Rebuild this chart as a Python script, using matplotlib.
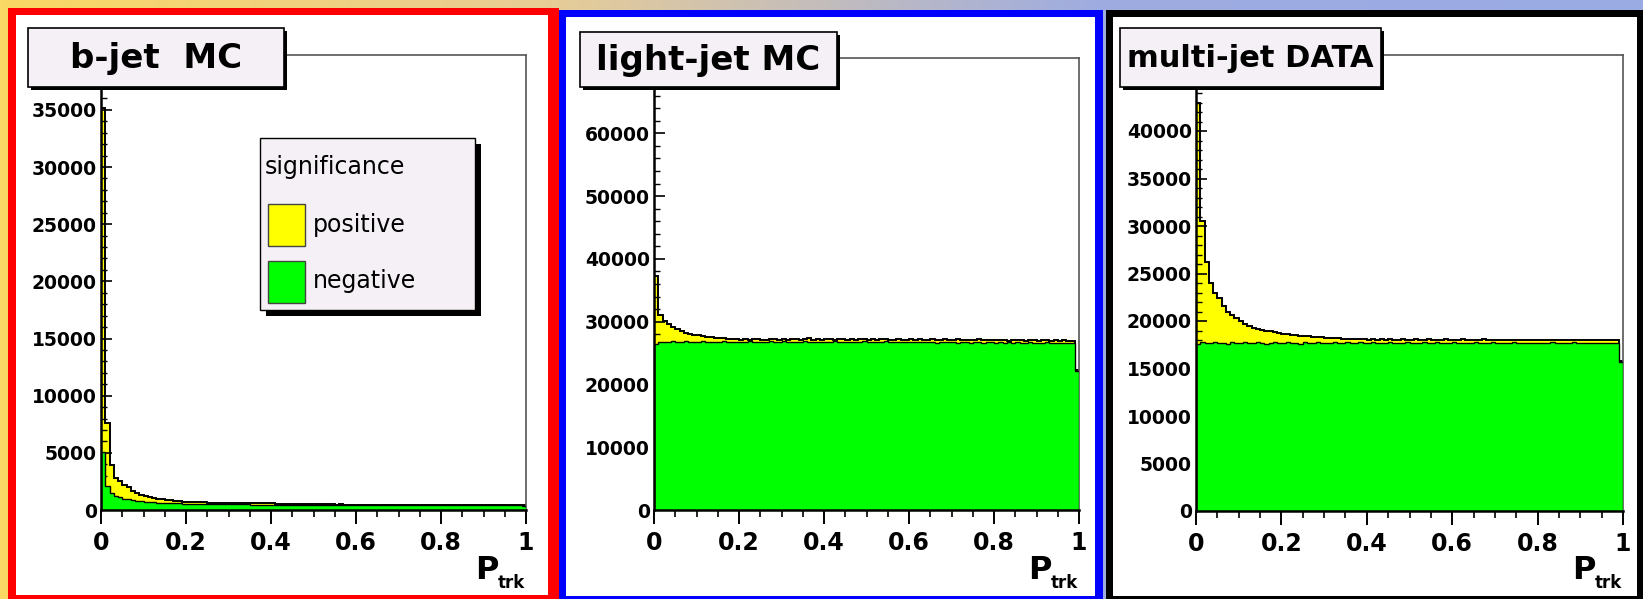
import numpy as np
import matplotlib
matplotlib.use("Agg")
import matplotlib.pyplot as plt
from matplotlib.patches import Rectangle
from matplotlib.colors import LinearSegmentedColormap
from matplotlib.ticker import MultipleLocator

plt.rcParams['font.family'] = ['DejaVu Sans']

W, H = 1643, 599

# track probability histograms, 100 bins in P_trk from 0 to 1
bjet_pos = [35200, 7600, 3900, 2800, 2500, 2200, 2000, 1700, 1500, 1300,
            1200, 1100, 1050, 980, 930, 880, 840, 800, 770, 740,
            720, 700, 690, 680, 660, 650, 640, 640, 630, 620,
            620, 610, 610, 600, 600, 590, 590, 580, 580, 570,
            570, 560, 500, 520, 490, 510, 500, 490, 520, 500,
            510, 490, 520, 520, 500, 480, 490, 480, 470, 480,
            470, 480, 470, 470, 460, 470, 460, 470, 460, 460,
            460, 450, 460, 450, 460, 450, 450, 460, 450, 450,
            450, 440, 450, 440, 450, 440, 450, 440, 440, 450,
            440, 440, 430, 440, 430, 440, 430, 430, 440, 400]
bjet_neg = [5100, 2100, 1500, 1250, 1100, 1000, 920, 860, 800, 760,
            720, 690, 660, 640, 620, 600, 590, 580, 570, 560,
            550, 540, 540, 530, 530, 520, 520, 510, 510, 500,
            500, 500, 490, 490, 490, 480, 480, 480, 480, 470,
            470, 470, 480, 470, 480, 470, 480, 470, 470, 480,
            470, 470, 460, 470, 470, 460, 470, 460, 460, 460,
            460, 460, 450, 460, 450, 460, 450, 450, 450, 450,
            450, 450, 440, 450, 440, 450, 440, 440, 450, 440,
            440, 440, 440, 430, 440, 430, 440, 430, 440, 440,
            430, 440, 430, 430, 430, 430, 430, 420, 430, 390]

ljet_pos = [37300, 31000, 30100, 29600, 29200, 28800, 28500, 28200, 28000, 27900,
            27800, 27700, 27600, 27500, 27450, 27400, 27350, 27300, 27300, 27250,
            27150, 27250, 27100, 27300, 27200, 27050, 27150, 27250, 27200, 27100,
            27300, 27150, 27200, 27250, 27100, 27200, 27350, 27150, 27200, 27100,
            27250, 27200, 27150, 27300, 27200, 27100, 27250, 27150, 27200, 27300,
            27100, 27200, 27150, 27250, 27200, 27100, 27150, 27200, 27050, 27150,
            27200, 27100, 27250, 27150, 27100, 27200, 27150, 27050, 27200, 27100,
            27150, 27200, 27100, 27050, 27150, 27100, 27200, 27050, 27100, 27150,
            27050, 27100, 27150, 27000, 27100, 27050, 27150, 27000, 27050, 27100,
            27000, 27050, 27100, 27000, 27050, 26950, 27050, 27000, 27000, 22300]
ljet_neg = [26500, 26700, 26800, 26750, 26850, 26800, 26700, 26850, 26750, 26800,
            26700, 26850, 26800, 26750, 26700, 26800, 26850, 26750, 26800, 26700,
            26800, 26750, 26850, 26700, 26800, 26750, 26700, 26850, 26800, 26750,
            26850, 26700, 26800, 26750, 26800, 26850, 26750, 26700, 26800, 26750,
            26800, 26700, 26850, 26750, 26700, 26800, 26750, 26800, 26700, 26850,
            26750, 26800, 26700, 26750, 26850, 26700, 26750, 26800, 26700, 26750,
            26800, 26700, 26750, 26700, 26800, 26750, 26650, 26750, 26700, 26800,
            26700, 26650, 26750, 26700, 26650, 26750, 26700, 26650, 26700, 26750,
            26650, 26700, 26650, 26700, 26600, 26700, 26650, 26600, 26700, 26650,
            26600, 26650, 26700, 26600, 26650, 26600, 26650, 26600, 26600, 22200]

mjet_pos = [43000, 30500, 26200, 24000, 23000, 22400, 21600, 21000, 20600, 20300,
            20000, 19700, 19500, 19300, 19200, 19100, 19000, 18900, 18800, 18700,
            18650, 18600, 18550, 18500, 18450, 18400, 18400, 18350, 18300, 18300,
            18250, 18250, 18200, 18200, 18150, 18150, 18100, 18150, 18100, 18100,
            18050, 18100, 18000, 18150, 18050, 18100, 18000, 18050, 18150, 18050,
            18000, 18100, 18050, 18000, 18100, 18050, 17950, 18050, 18100, 18000,
            18050, 18000, 18100, 18050, 17950, 18050, 18000, 18100, 18000, 18050,
            17950, 18000, 18050, 17950, 18000, 18050, 18000, 17950, 18050, 18000,
            17950, 18000, 18050, 17950, 18000, 17950, 18050, 18000, 17950, 18000,
            17950, 18000, 17950, 18050, 17950, 18000, 17950, 18000, 17950, 15800]
mjet_neg = [17600, 17750, 17650, 17700, 17750, 17650, 17700, 17600, 17750, 17700,
            17650, 17750, 17700, 17650, 17750, 17700, 17600, 17700, 17750, 17650,
            17700, 17750, 17650, 17700, 17600, 17750, 17700, 17650, 17750, 17700,
            17650, 17700, 17750, 17650, 17700, 17750, 17650, 17700, 17750, 17700,
            17650, 17750, 17700, 17650, 17700, 17750, 17700, 17650, 17700, 17750,
            17700, 17650, 17700, 17750, 17650, 17700, 17750, 17700, 17650, 17700,
            17750, 17650, 17700, 17700, 17650, 17750, 17700, 17650, 17700, 17750,
            17650, 17700, 17700, 17650, 17750, 17700, 17650, 17700, 17700, 17650,
            17700, 17650, 17700, 17750, 17650, 17700, 17650, 17700, 17750, 17650,
            17700, 17650, 17700, 17650, 17700, 17650, 17700, 17650, 17700, 15700]

titles = ['b-jet  MC', 'light-jet MC', 'multi-jet DATA']
xtick_vals = [0, 0.2, 0.4, 0.6, 0.8, 1]
xtick_labels = ['0', '0.2', '0.4', '0.6', '0.8', '1']


def fbox(x0, y0, x1, y1):
    # pixel box (top-left origin) -> figure fraction [l, b, w, h]
    return [x0 / W, 1 - y1 / H, (x1 - x0) / W, (y1 - y0) / H]


def frect(x0, y0, x1, y1, z, **kw):
    l, b, w, h = fbox(x0, y0, x1, y1)
    r = Rectangle((l, b), w, h, transform=fig.transFigure, zorder=z, **kw)
    fig.add_artist(r)
    return r


def ftext(x, y, s, z=12, **kw):
    fig.text(x / W, 1 - y / H, s, zorder=z, **kw)


fig = plt.figure(figsize=(W / 100, H / 100), dpi=100)

# background strip, yellow to lavender
bg = fig.add_axes([0, 0, 1, 1], zorder=-20)
cmap = LinearSegmentedColormap.from_list(
    'bg', [(0.0, '#fad864'), (0.33, '#e8cd96'), (0.67, '#9eace1'), (1.0, '#9aaae4')])
bg.imshow(np.linspace(0, 1, 256)[None, :], cmap=cmap, aspect='auto', extent=[0, 1, 0, 1])
bg.axis('off')

# panel borders: outer colour, inner white
borders = [('#ff0000', (8, 8, 559, 599), (16, 15, 548, 595)),
           ('#0000ff', (559, 10, 1103, 599), (566, 17, 1095, 596)),
           ('#000000', (1106, 10, 1643, 599), (1113, 17, 1637, 596))]
for col, outer, inner in borders:
    frect(*outer, -10, facecolor=col, edgecolor='none')
    frect(*inner, -9, facecolor='white', edgecolor='none')

panels = [
    dict(pos=bjet_pos, neg=bjet_neg, frame=(101, 55, 526, 510), ymax=39800,
         ymaj=np.arange(0, 35001, 5000), ymin=1000, tbox=(28, 28, 284, 87), tsize=24.5),
    dict(pos=ljet_pos, neg=ljet_neg, frame=(654, 58, 1079, 510), ymax=72000,
         ymaj=np.arange(0, 60001, 10000), ymin=2000, tbox=(580, 32, 837, 87), tsize=24.5),
    dict(pos=mjet_pos, neg=mjet_neg, frame=(1196, 55, 1623, 511), ymax=48000,
         ymaj=np.arange(0, 40001, 5000), ymin=1000, tbox=(1120, 28, 1381, 87), tsize=22),
]

edges = np.linspace(0, 1, 101)

for p, title in zip(panels, titles):
    x0, y0, x1, y1 = p['frame']
    ax = fig.add_axes(fbox(x0, y0, x1, y1), zorder=1)
    ax.set_facecolor('white')

    ax.stairs(p['pos'], edges, fill=True, color='#ffff00', zorder=1)
    ax.stairs(p['pos'], edges, color='black', lw=1.4, zorder=1.2)
    ax.stairs(p['neg'], edges, fill=True, color='#00ff00', zorder=3)
    ax.stairs(p['neg'], edges, color='black', lw=1.0, zorder=3.2)

    ax.set_xlim(0, 1)
    ax.set_ylim(0, p['ymax'])
    ax.set_xticks(xtick_vals, xtick_labels)
    ax.xaxis.set_minor_locator(MultipleLocator(0.05))
    ax.set_yticks(p['ymaj'], [str(v) for v in p['ymaj']])
    ax.yaxis.set_minor_locator(MultipleLocator(p['ymin']))

    ax.tick_params(axis='x', which='major', direction='out', length=10, width=1.4,
                   pad=5, labelsize=17, top=False)
    ax.tick_params(axis='x', which='minor', direction='out', length=5, width=1.2, top=False)
    ax.tick_params(axis='y', which='major', direction='in', length=8, width=1.2,
                   pad=3, labelsize=13.5, right=False)
    ax.tick_params(axis='y', which='minor', direction='in', length=4, width=1.0, right=False)
    for lab in ax.get_xticklabels() + ax.get_yticklabels():
        lab.set_fontweight('bold')

    for side in ('left', 'bottom'):
        ax.spines[side].set_linewidth(1.8)
        ax.spines[side].set_color('black')
        ax.spines[side].set_zorder(5)
    for side in ('top', 'right'):
        ax.spines[side].set_linewidth(1.2)
        ax.spines[side].set_color('#555555')

    # title box with small shadow
    tx0, ty0, tx1, ty1 = p['tbox']
    frect(tx0 + 3, ty0 + 3, tx1 + 3, ty1 + 3, 9, facecolor='black', edgecolor='none')
    frect(tx0, ty0, tx1, ty1, 10, facecolor='#f4f0f5', edgecolor='black', lw=1.2)
    ftext((tx0 + tx1) / 2, (ty0 + ty1) / 2 + 1, title, ha='center', va='center',
          fontsize=p['tsize'], fontweight='bold')

    # axis title P_trk
    ftext(x1 - 27, 579, 'P', ha='right', va='baseline', fontsize=23, fontweight='bold')
    ftext(x1 - 28, 588, 'trk', ha='left', va='baseline', fontsize=12, fontweight='bold')

# legend in the b-jet panel
frect(266, 144, 481, 316, 9, facecolor='black', edgecolor='none')
frect(260, 138, 475, 310, 10, facecolor='#f4f0f5', edgecolor='black', lw=1.0)
ftext(265, 167, 'significance', ha='left', va='center', fontsize=17)
frect(268, 204, 305, 246, 11, facecolor='#ffff00', edgecolor='#444444', lw=1.0)
ftext(313, 225, 'positive', ha='left', va='center', fontsize=17)
frect(268, 261, 305, 303, 11, facecolor='#00ff00', edgecolor='#444444', lw=1.0)
ftext(313, 281, 'negative', ha='left', va='center', fontsize=17)

fig.savefig('out.png', dpi=100)
